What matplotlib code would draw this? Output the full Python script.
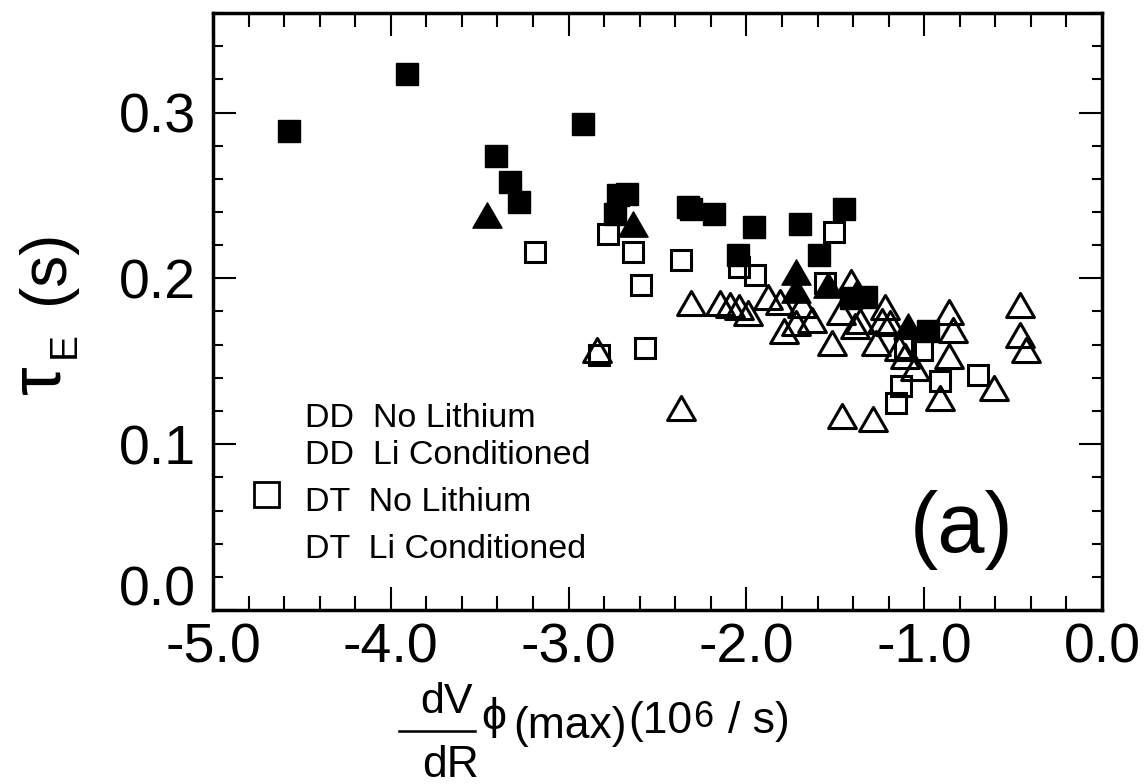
#!/usr/bin/env python3
"""Confinement time vs dV/dR scatter, panel (a)."""

import matplotlib
matplotlib.use("Agg")
import matplotlib.pyplot as plt
from matplotlib.lines import Line2D
from matplotlib.path import Path
from matplotlib.ticker import MultipleLocator
from matplotlib.transforms import ScaledTranslation

plt.rcParams["font.family"] = ["Liberation Sans", "DejaVu Sans"]

# ── data ──────────────────────────────────────────────────────────
dd_noli_x = [-4.57, -3.91, -3.41, -3.33, -3.28, -2.92, -2.72, -2.67, -2.74,
             -2.33, -2.31, -2.18, -1.96, -1.70, -1.45, -2.05, -1.59, -1.41,
             -1.33, -0.98]
dd_noli_y = [0.289, 0.323, 0.274, 0.258, 0.246, 0.293, 0.250, 0.251, 0.239,
             0.243, 0.242, 0.239, 0.231, 0.233, 0.242, 0.214, 0.214, 0.188,
             0.189, 0.168]

dd_li_x = [-3.46, -2.64, -1.72, -1.72, -1.54, -1.38, -1.09]
dd_li_y = [0.238, 0.233, 0.204, 0.193, 0.196, 0.192, 0.171]

dt_noli_x = [-3.19, -2.78, -2.64, -2.59, -2.57, -2.83, -2.37, -2.04, -1.95,
             -1.51, -1.56, -1.11, -1.01, -1.13, -1.16, -0.91, -0.70]
dt_noli_y = [0.216, 0.227, 0.216, 0.196, 0.158, 0.154, 0.211, 0.207, 0.202,
             0.228, 0.197, 0.158, 0.157, 0.135, 0.125, 0.138, 0.142]

dt_li_x = [-2.84, -2.31, -2.37, -2.15, -2.09, -2.04, -1.99, -1.88, -1.81,
           -1.79, -1.72, -1.69, -1.63, -1.52, -1.47, -1.41, -1.39, -1.46,
           -1.22, -1.36, -1.24, -1.19, -1.27, -1.14, -1.11, -1.05, -0.91,
           -0.86, -0.84, -0.86, -0.61, -0.46, -0.46, -0.43, -1.29]
dt_li_y = [0.157, 0.185, 0.122, 0.185, 0.184, 0.183, 0.179, 0.189, 0.186,
           0.168, 0.173, 0.184, 0.175, 0.161, 0.180, 0.198, 0.171, 0.117,
           0.183, 0.174, 0.174, 0.173, 0.161, 0.158, 0.153, 0.146, 0.128,
           0.180, 0.169, 0.153, 0.134, 0.184, 0.166, 0.157, 0.115]

legend_labels = ["DD  No Lithium", "DD  Li Conditioned",
                 "DT  No Lithium", "DT  Li Conditioned"]

xticks = [-5.0, -4.0, -3.0, -2.0, -1.0, 0.0]
yticks = [0.0, 0.1, 0.2, 0.3]

W, H = 1147, 784


def fx(px):
    return px / W


def fy(py):
    return 1 - py / H


tri = Path([(-1, -0.866), (1, -0.866), (0, 0.866), (-1, -0.866)], closed=True)

fig = plt.figure(figsize=(W / 100, H / 100), dpi=100)
ax = fig.add_axes([fx(213), fy(610), (1102 - 213) / W, (610 - 13) / H])

ax.plot(dt_li_x, dt_li_y, ls="none", marker=tri, ms=20, mfc="none",
        mec="black", mew=2.2, zorder=2)
ax.plot(dt_noli_x, dt_noli_y, ls="none", marker="s", ms=14.5, mfc="none",
        mec="black", mew=2.2, zorder=2)
ax.plot(dd_noli_x, dd_noli_y, ls="none", marker="s", ms=16, mfc="black",
        mec="black", mew=1, zorder=3)
ax.plot(dd_li_x, dd_li_y, ls="none", marker=tri, ms=21, mfc="black",
        mec="black", mew=1, zorder=3)

ax.set_xlim(-5, 0)
ax.set_ylim(0, 0.36)
ax.set_xticks(xticks)
ax.set_xticklabels([f"{v:.1f}" for v in xticks])
ax.set_yticks(yticks)
ax.set_yticklabels([f"{v:.1f}" for v in yticks])
ax.xaxis.set_minor_locator(MultipleLocator(0.2))
ax.yaxis.set_minor_locator(MultipleLocator(0.02))
ax.tick_params(which="both", direction="in", top=True, right=True,
               width=1.5, labelsize=40)
ax.tick_params(which="major", length=16.5)
ax.tick_params(axis="x", which="major", pad=9)
ax.tick_params(axis="y", which="major", pad=12)
ax.tick_params(axis="x", which="minor", length=10)
ax.tick_params(axis="y", which="minor", length=7)
for sp in ax.spines.values():
    sp.set_linewidth(2.5)

# the 0.0 label on y sits a little above its tick, clear of the corner
lab0 = ax.yaxis.get_major_ticks()[0].label1
lab0.set_transform(lab0.get_transform()
                   + ScaledTranslation(0, 0.24, fig.dpi_scale_trans))

# legend block (only the open square symbol survives in the original)
ax.plot([(266 - 213) / 889], [(610 - 494) / 597], transform=ax.transAxes,
        ls="none", marker="s", ms=18, mfc="none", mec="black", mew=2,
        clip_on=False)
for lab, base in zip(legend_labels, [427, 464, 511, 558]):
    fig.text(fx(305), fy(base), lab, fontsize=24.5, va="baseline")

fig.text(fx(962), fy(552), "(a)", fontsize=61, ha="center", va="baseline")

# y label: tau_E (s), rotated
fig.text(fx(41), fy(380), "τ", fontsize=52, rotation=90,
         ha="center", va="center")
fig.text(fx(65), fy(345), "E", fontsize=28, rotation=90,
         ha="center", va="center")
fig.text(fx(46), fy(267), "(s)", fontsize=46, rotation=90,
         ha="center", va="center")

# x label: dV/dR phi(max)(10^6 / s)
fig.text(fx(446), fy(713), "dV", fontsize=31, ha="center", va="baseline")
fig.add_artist(Line2D([fx(399), fx(475)], [fy(731), fy(731)],
                      transform=fig.transFigure, color="black", lw=1.8))
fig.text(fx(451), fy(777), "dR", fontsize=32, ha="center", va="baseline")
fig.text(fx(494), fy(718), "ϕ", fontsize=32, ha="center", va="center")
fig.text(fx(513), fy(738), "(max)", fontsize=32, va="baseline")
t10 = fig.text(fx(628), fy(733), "(10", fontsize=32, va="baseline")
renderer = fig.canvas.get_renderer()
x6 = t10.get_window_extent(renderer).x1 + 1
t6 = fig.text(x6 / W, fy(727), "6", fontsize=26, va="baseline")
xs = max(t6.get_window_extent(renderer).x1 + 10, 728)
fig.text(xs / W, fy(733), "/ s)", fontsize=32, va="baseline")

fig.savefig("out.png", dpi=100)
